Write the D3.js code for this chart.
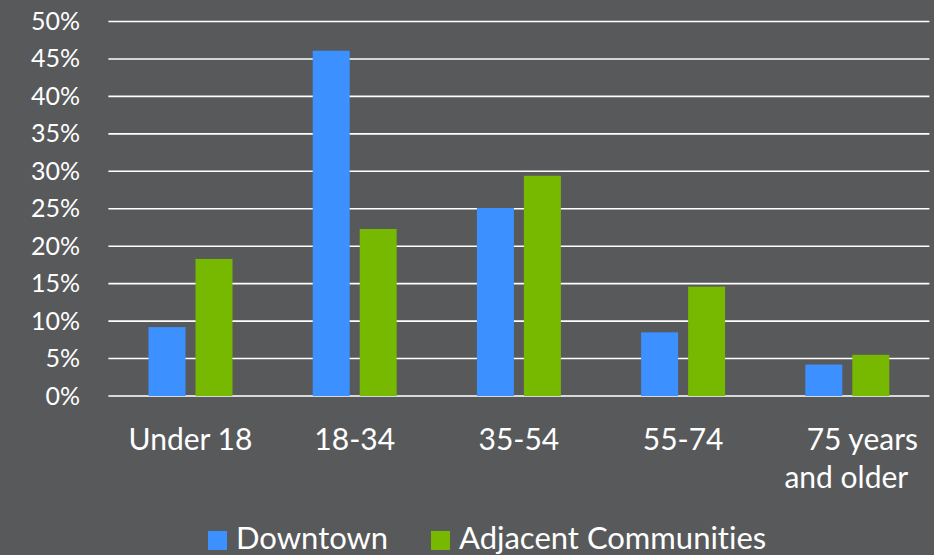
<!DOCTYPE html>
<html>
<head>
<meta charset="utf-8">
<script src="https://cdn.jsdelivr.net/npm/d3@7/dist/d3.min.js"></script>
<style>
  html, body { margin: 0; padding: 0; background: #58595b; }
  svg { display: block; }
  text { font-family: "Source Sans Pro", Lato, "Noto Sans", sans-serif; fill: #ffffff;
         font-variant-ligatures: none; font-feature-settings: "liga" 0, "clig" 0; }
</style>
</head>
<body>
<svg id="chart" width="934" height="555"></svg>
<script>
// Age groups (multi-line labels split on "\n")
const categories = ["Under 18", "18-34", "35-54", "55-74", "75 years\nand older"];
const seriesNames = ["Downtown", "Adjacent Communities"];
const downtown = [9.2, 46.1, 25.1, 8.5, 4.2];
const adjacent = [18.3, 22.3, 29.4, 14.6, 5.5];
const yTicks = [0, 5, 10, 15, 20, 25, 30, 35, 40, 45, 50];
const colors = ["#3d90ff", "#77b800"];

const svg = d3.select("#chart");
const W = 934, H = 555;
const plot = { left: 108.4, right: 929.4, top: 21.5, bottom: 396 };

svg.append("rect").attr("width", W).attr("height", H).attr("fill", "#58595b");

const x = d3.scaleBand().domain(categories).range([plot.left, plot.right]).paddingInner(0).paddingOuter(0);
const y = d3.scaleLinear().domain([0, 50]).range([plot.bottom, plot.top]);
const barW = 37, barGap = 10;
const xs = d3.scaleOrdinal().domain(seriesNames).range([-(barW + barGap / 2), barGap / 2]);

// Horizontal gridlines
svg.append("g").selectAll("line").data(yTicks).join("line")
  .attr("x1", plot.left).attr("x2", plot.right)
  .attr("y1", d => y(d)).attr("y2", d => y(d))
  .attr("stroke", d => d === 0 ? "#d9d9d9" : "#ffffff")
  .attr("stroke-width", d => d === 0 ? 2.2 : 1.6);

// Y axis labels
const yAxis = d3.axisLeft(y).tickValues(yTicks).tickFormat(d => d + "%").tickSize(0).tickPadding(0);
const gy = svg.append("g").attr("transform", `translate(80,0)`).call(yAxis);
gy.select(".domain").remove();
gy.selectAll("text").attr("font-size", 25).attr("fill", "#ffffff")
  .style("font-family", '"Source Sans Pro", Lato, sans-serif');

// Bars
const rows = categories.map((c, i) => ({ cat: c, values: [downtown[i], adjacent[i]] }));
const groups = svg.append("g").selectAll("g").data(rows).join("g")
  .attr("transform", d => `translate(${x(d.cat) + x.bandwidth() / 2},0)`);
groups.selectAll("rect").data(d => d.values.map((v, j) => ({ v, s: seriesNames[j], j }))).join("rect")
  .attr("x", d => xs(d.s))
  .attr("width", barW)
  .attr("y", d => y(d.v))
  .attr("height", d => y(0) - y(d.v))
  .attr("fill", d => colors[d.j]);

// X axis category labels
const lineOffsets = [[0], [0], [0], [0], [15, -1]];
const labels = svg.append("g").selectAll("text").data(categories).join("text")
  .attr("text-anchor", "middle")
  .attr("font-size", 30)
  .attr("transform", d => `translate(${x(d) + x.bandwidth() / 2},450)`);
labels.each(function (d, i) {
  const t = d3.select(this);
  d.split("\n").forEach((line, k) => {
    t.append("tspan").attr("x", lineOffsets[i][k] || 0).attr("y", k * 38).text(line);
  });
});

// Legend
const legendItems = [
  { name: seriesNames[0], color: colors[0], x: 208 },
  { name: seriesNames[1], color: colors[1], x: 431 }
];
const lg = svg.append("g").selectAll("g").data(legendItems).join("g")
  .attr("transform", d => `translate(${d.x},531)`);
lg.append("rect").attr("width", 19).attr("height", 19).attr("fill", d => d.color);
lg.append("text").attr("x", 28).attr("y", 18).attr("font-size", 31).text(d => d.name);
</script>
</body>
</html>
